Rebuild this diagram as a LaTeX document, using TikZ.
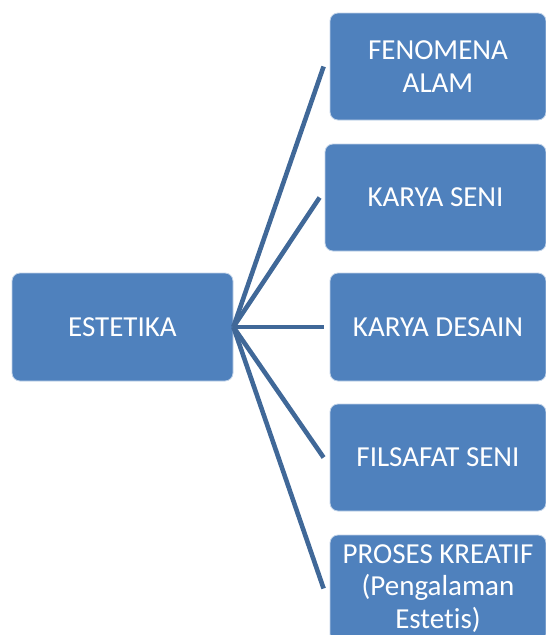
\documentclass[tikz,border=0pt]{standalone}
\usepackage{fontspec}
\setmainfont{Carlito}[Ligatures=NoCommon]
\usepackage{xcolor}
\usepackage{tikz}
\usetikzlibrary{calc,positioning}
\definecolor{boxblue}{RGB}{79,129,189}
\definecolor{linkblue}{RGB}{64,104,152}
\tikzset{
  topic/.style={rectangle,rounded corners=8pt,fill=boxblue,draw=white!65!boxblue,
    line width=0.8pt,text=white,align=center,inner sep=2pt,
    font=\fontsize{29}{32.5}\selectfont},
  link/.style={line width=4.6pt,linkblue}
}

\begin{document}
\begin{tikzpicture}[x=1pt,y=-1pt]
  \useasboundingbox (0,0) rectangle (546,635);
  \clip (0,0) rectangle (546,635);
  \node[topic,minimum width=221pt,minimum height=108pt] (est) at (122.5,327) {ESTETIKA};
  \node[topic,minimum width=216pt,minimum height=107pt] (fen) at (438,66.5) {FENOMENA\\ALAM};
  \node[topic,minimum width=221pt,minimum height=107pt] (kar) at (435.5,197.5) {KARYA SENI};
  \node[topic,minimum width=216pt,minimum height=108pt] (des) at (438,327) {KARYA DESAIN};
  \node[topic,minimum width=216pt,minimum height=107pt] (fil) at (438,457.5) {FILSAFAT SENI};
  \node[topic,minimum width=216pt,minimum height=107pt] (pro) at (438,588.5) {PROSES KREATIF\\(Pengalaman\\Estetis)};
  \draw[link] (est.east) -- ([xshift=-6pt]fen.west);
  \draw[link] (est.east) -- ([xshift=-5pt]kar.west);
  \draw[link] (est.east) -- ([xshift=-6pt]des.west);
  \draw[link] (est.east) -- ([xshift=-6pt]fil.west);
  \draw[link] (est.east) -- ([xshift=-6pt]pro.west);
\end{tikzpicture}
\end{document}
